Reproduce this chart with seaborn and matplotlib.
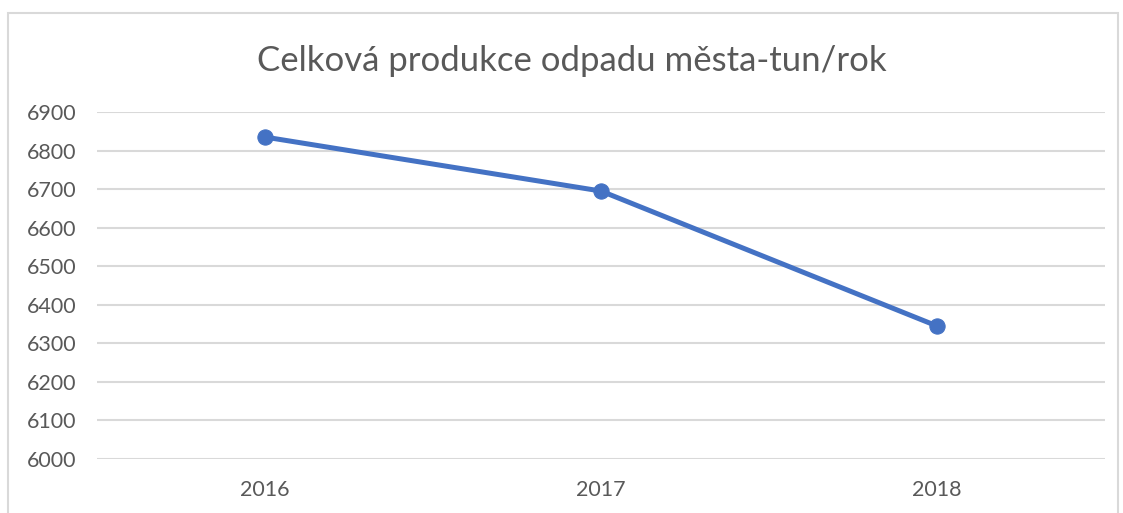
import matplotlib
matplotlib.use("Agg")
import matplotlib.pyplot as plt
import seaborn as sns
import pandas as pd
from matplotlib.patches import Rectangle

years = ['2016', '2017', '2018']
waste = [6835, 6695, 6345]
yticks = [6000, 6100, 6200, 6300, 6400, 6500, 6600, 6700, 6800, 6900]

df = pd.DataFrame({'Rok': years, 'Odpad': waste})

sns.set_style("white")
plt.rcParams['font.family'] = ['Lato', 'DejaVu Sans']

text_col = '#595959'
grid_col = '#d9d9d9'
line_col = '#4472C4'

fig = plt.figure(figsize=(11.23, 5.13), dpi=100)
ax = fig.add_axes([97 / 1123, 1 - 459 / 513, 1008 / 1123, 347 / 513])

sns.lineplot(data=df, x='Rok', y='Odpad', ax=ax, color=line_col, linewidth=3.6,
             marker='o', markersize=11, markeredgecolor=line_col, sort=False)

ax.set_xlim(-0.5, 2.5)
ax.set_ylim(6000, 6900)
ax.set_yticks(yticks)
ax.set_yticklabels([str(v) for v in yticks])
ax.grid(axis='y', color=grid_col, linewidth=1.5)
ax.set_axisbelow(True)
for s in ax.spines.values():
    s.set_visible(False)
ax.tick_params(axis='both', length=0, labelsize=15.5, labelcolor=text_col)
ax.tick_params(axis='y', pad=15)
ax.tick_params(axis='x', pad=15)
ax.set_xlabel('')
ax.set_ylabel('')

fig.text(572 / 1123, 1 - 61 / 513, 'Celková produkce odpadu města-tun/rok',
         ha='center', va='center', fontsize=25, color=text_col)

# chart frame
fig.patches.append(Rectangle((8 / 1123, -0.05), 1110 / 1123, 1.05 - 13 / 513,
                             transform=fig.transFigure, fill=False,
                             edgecolor=grid_col, linewidth=1.5))

fig.savefig('out.png', dpi=100)
